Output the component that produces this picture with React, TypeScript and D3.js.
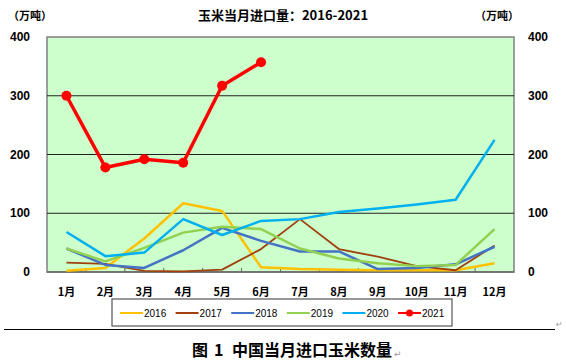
import * as d3 from 'd3'

const months = ['1月', '2月', '3月', '4月', '5月', '6月', '7月', '8月', '9月', '10月', '11月', '12月']
const yTicks = [0, 100, 200, 300, 400]

const v2016 = [2, 7, 57, 117, 104, 8, 5, 4, 3, 3, 3, 15]
const v2017 = [16, 14, 2, 1, 4, 39, 90, 39, 26, 10, 3, 45]
const v2018 = [40, 12, 7, 37, 75, 53, 35, 35, 5, 7, 13, 43]
const v2019 = [40, 18, 41, 67, 77, 73, 40, 23, 15, 10, 12, 73]
const v2020 = [68, 27, 33, 90, 63, 87, 90, 102, 108, 115, 123, 225]
const v2021 = [300, 178, 192, 186, 317, 357]

const seriesNames = ['2016', '2017', '2018', '2019', '2020', '2021']
const seriesColors = ['#FFC000', '#A0410D', '#4472C4', '#92D050', '#00B0F0', '#FF0000']
const seriesValues = [v2016, v2017, v2018, v2019, v2020, v2021]

const W = 566, H = 364
const L = 47, R = 514, T = 37, B = 272

export default function App() {
  const x = d3.scaleBand<string>().domain(months).range([L, R])
  const y = d3.scaleLinear().domain([0, 400]).range([B, T])
  const cx = (i: number) => (x(months[i]) ?? 0) + x.bandwidth() / 2
  const line = d3.line<number>().x((_, i) => cx(i)).y((d) => y(d))
  const cjk = '"Noto Sans CJK SC", "Liberation Sans", sans-serif'

  return (
    <svg width={W} height={H} viewBox={`0 0 ${W} ${H}`}
      style={{ position: 'absolute', left: 0, top: 0, background: '#fff' }}>
      <text x={283} y={20} textAnchor="middle" fontFamily={cjk} fontWeight="bold" fontSize={13} fill="#000">
        玉米当月进口量：2016-2021
      </text>
      <text x={30} y={20} textAnchor="middle" fontFamily={cjk} fontWeight="bold" fontSize={11}>（万吨）</text>
      <text x={497} y={20} textAnchor="middle" fontFamily={cjk} fontWeight="bold" fontSize={11}>（万吨）</text>

      <rect x={L} y={T} width={R - L} height={B - T} fill="#CCFFCC" stroke="#808080" strokeWidth={1.5} />
      {yTicks.filter((t) => t > 0 && t < 400).map((t) => (
        <line key={t} x1={L} x2={R} y1={y(t)} y2={y(t)} stroke="#222" strokeWidth={1} />
      ))}
      <line x1={L} x2={R} y1={B} y2={B} stroke="#666" strokeWidth={1.5} />
      {months.map((m, i) => i > 0 && (
        <line key={m} x1={x(m)} x2={x(m)} y1={B} y2={B - 4} stroke="#666" strokeWidth={1} />
      ))}

      {yTicks.map((t) => (
        <g key={t} fontFamily='"Liberation Sans", Arial, sans-serif' fontWeight="bold" fontSize={12} fill="#000">
          <text x={30} y={y(t) + 4} textAnchor="end">{t}</text>
          <text x={528} y={y(t) + 4} textAnchor="start">{t}</text>
        </g>
      ))}
      {months.map((m, i) => (
        <text key={m} x={cx(i)} y={296} textAnchor="middle" fontFamily={cjk} fontWeight="bold" fontSize={11}>{m}</text>
      ))}

      {seriesValues.map((vals, s) => (
        <path key={s} d={line(vals) ?? ''} fill="none" stroke={seriesColors[s]}
          strokeWidth={s === 5 ? 3.5 : s === 1 ? 1.8 : 2.5} strokeLinejoin="round" />
      ))}
      {v2021.map((v, i) => (
        <circle key={i} cx={cx(i)} cy={y(v)} r={5} fill="#FF0000" />
      ))}

      <rect x={112} y={299} width={340} height={27} fill="#fff" stroke="#555" strokeWidth={1.2} />
      {seriesNames.map((n, s) => {
        const lx = 120 + s * 55.6
        return (
          <g key={n}>
            <line x1={lx} x2={lx + 23} y1={313} y2={313} stroke={seriesColors[s]} strokeWidth={2} />
            {s === 5 && <circle cx={lx + 11.5} cy={313} r={3.5} fill="#FF0000" />}
            <text x={lx + 24} y={317} fontFamily='"Liberation Sans", Arial, sans-serif' fontSize={10} fill="#000">{n}</text>
          </g>
        )
      })}

      <line x1={4} x2={555} y1={329.5} y2={329.5} stroke="#000" strokeWidth={1} />
      <text x={556} y={327} fontSize={8} fill="#999" fontFamily='"DejaVu Sans", sans-serif'>↵</text>
      <g fontFamily={cjk} fontWeight="bold" fontSize={16} fill="#000">
        <text x={192} y={356}>图</text>
        <text x={214} y={356}>1</text>
        <text x={232} y={356}>中国当月进口玉米数量</text>
      </g>
      <text x={394} y={357} fontSize={9} fill="#999" fontFamily='"DejaVu Sans", sans-serif'>↵</text>
    </svg>
  )
}
